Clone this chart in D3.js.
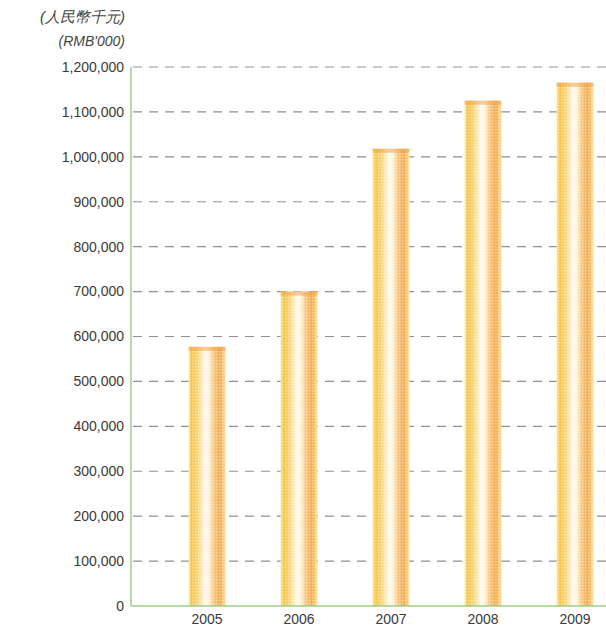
<!DOCTYPE html>
<html>
<head>
<meta charset="utf-8">
<script src="https://cdn.jsdelivr.net/npm/d3@7"></script>
<style>
  body { margin: 0; background: #fff; }
  text { font-family: "Liberation Sans", Arial, sans-serif; }
</style>
</head>
<body>
<script>
let width = 606,
    height = 630;

const years = ["2005", "2006", "2007", "2008", "2009"];
const revenue = [577000, 700000, 1018000, 1125000, 1165000];
const yTicks = [0, 100000, 200000, 300000, 400000, 500000, 600000, 700000, 800000, 900000, 1000000, 1100000, 1200000];

let x = d3.scaleBand()
    .domain(years)
    .range([161, 621])
    .paddingInner(0.6)
    .paddingOuter(0.3);

let y = d3.scaleLinear()
    .domain([0, 1200000])
    .range([606, 67]);

let svg = d3.select("body").append("svg")
    .attr("width", width)
    .attr("height", height);

let defs = svg.append("defs");

// cylinder-ish shading across each bar
let grad = defs.append("linearGradient")
    .attr("id", "barGrad")
    .attr("x1", "0%").attr("x2", "100%")
    .attr("y1", "0%").attr("y2", "0%");
[
    [0, "#fce8a0"], [0.08, "#f6c445"], [0.25, "#f9d67c"],
    [0.45, "#fffaf0"], [0.55, "#fff3dc"], [0.68, "#f8c87c"],
    [0.85, "#f3aa52"], [1, "#fcdf95"]
].forEach(function (s) {
    grad.append("stop").attr("offset", s[0]).attr("stop-color", s[1]);
});

// dotted texture
let pat = defs.append("pattern")
    .attr("id", "dots")
    .attr("width", 3).attr("height", 3)
    .attr("patternUnits", "userSpaceOnUse");
pat.append("rect").attr("width", 1.5).attr("height", 1.5)
    .attr("fill", "#ffffff").attr("opacity", 0.45);

// gridlines
svg.append("g")
    .selectAll("line")
    .data(yTicks.filter(function (d) { return d > 0; }))
    .enter().append("line")
    .attr("x1", 133)
    .attr("x2", width)
    .attr("y1", function (d) { return y(d); })
    .attr("y2", function (d) { return y(d); })
    .attr("stroke", "#909090")
    .attr("stroke-width", 1.2)
    .attr("stroke-dasharray", "9,7");

// bars
let bars = svg.append("g");
bars.selectAll(".bar")
    .data(revenue)
    .enter().append("rect")
    .attr("class", "bar")
    .attr("x", function (d, i) { return x(years[i]); })
    .attr("width", x.bandwidth())
    .attr("y", function (d) { return y(d); })
    .attr("height", function (d) { return y(0) - y(d); })
    .attr("fill", "url(#barGrad)");

bars.selectAll(".tex")
    .data(revenue)
    .enter().append("rect")
    .attr("class", "tex")
    .attr("x", function (d, i) { return x(years[i]); })
    .attr("width", x.bandwidth())
    .attr("y", function (d) { return y(d); })
    .attr("height", function (d) { return y(0) - y(d); })
    .attr("fill", "url(#dots)");

// top cap
bars.selectAll(".cap")
    .data(revenue)
    .enter().append("rect")
    .attr("class", "cap")
    .attr("x", function (d, i) { return x(years[i]); })
    .attr("width", x.bandwidth())
    .attr("y", function (d) { return y(d); })
    .attr("height", 4)
    .attr("fill", "#f0a048")
    .attr("opacity", 0.5);

// axes lines
svg.append("line")
    .attr("x1", 131).attr("x2", 131)
    .attr("y1", 67).attr("y2", 606)
    .attr("stroke", "#9ccf8a").attr("stroke-width", 1.5);
svg.append("line")
    .attr("x1", 131).attr("x2", width)
    .attr("y1", 606).attr("y2", 606)
    .attr("stroke", "#9ccf8a").attr("stroke-width", 1.5);

// y tick labels
svg.append("g")
    .selectAll("text")
    .data(yTicks)
    .enter().append("text")
    .attr("x", 124)
    .attr("y", function (d) { return y(d); })
    .attr("dy", "0.35em")
    .attr("text-anchor", "end")
    .attr("font-size", 14)
    .attr("fill", "#3a3a3a")
    .text(function (d) { return d === 0 ? "0" : d3.format(",")(d); });

// x labels
svg.append("g")
    .selectAll("text")
    .data(years)
    .enter().append("text")
    .attr("x", function (d) { return x(d) + x.bandwidth() / 2; })
    .attr("y", 624)
    .attr("text-anchor", "middle")
    .attr("font-size", 14)
    .attr("fill", "#3a3a3a")
    .text(function (d) { return d; });

// unit labels
svg.append("text")
    .attr("x", 125).attr("y", 22)
    .attr("text-anchor", "end")
    .attr("font-size", 15)
    .attr("font-style", "italic")
    .attr("fill", "#444")
    .attr("font-family", "'Noto Sans CJK TC', sans-serif")
    .text("(人民幣千元)");
svg.append("text")
    .attr("x", 125).attr("y", 46)
    .attr("text-anchor", "end")
    .attr("font-size", 14)
    .attr("font-style", "italic")
    .attr("fill", "#444")
    .text("(RMB'000)");
</script>
</body>
</html>
